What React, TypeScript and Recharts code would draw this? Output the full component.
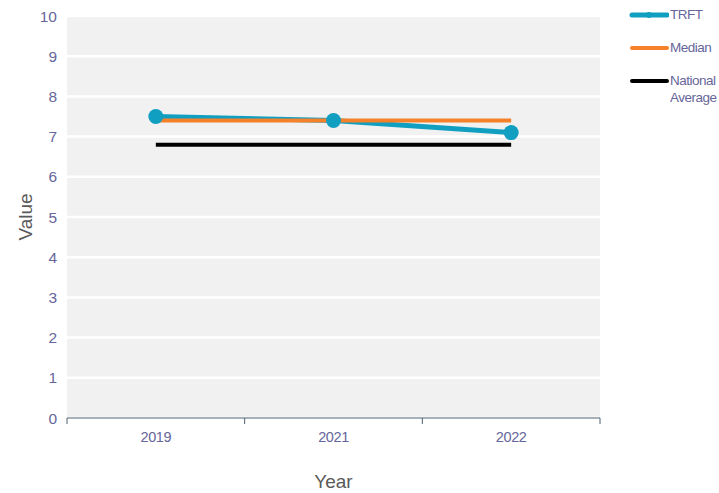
import React from 'react';
import { CartesianGrid, Label, Line, LineChart, XAxis, YAxis } from 'recharts';

const years = ['2019', '2021', '2022'];
const trft = [7.5, 7.4, 7.1];
const median = [7.4, 7.4, 7.4];
const nationalAverage = [6.8, 6.8, 6.8];
const yTicks = [0, 1, 2, 3, 4, 5, 6, 7, 8, 9, 10];

const data = years.map((year, i) => ({
  year,
  trft: trft[i],
  median: median[i],
  national: nationalAverage[i],
}));

const FONT = '"Liberation Sans Narrow", "Arial Narrow", "Liberation Sans", Arial, sans-serif';
const TICK_COLOR = '#66669a';
const TEAL = '#109fc0';
const ORANGE = '#f5822a';
const TICK_SIZE = 6;
const TICK_MARGIN = 2;

// tick marks sit on the band edges, labels in the band centre
const YearTick = (props: any) => {
  const { x, y, payload, index, visibleTicksCount } = props;
  const axisY = y - TICK_SIZE - TICK_MARGIN;
  const half = payload.offset || 0;
  const stroke = '#4f6272';
  return (
    <g>
      <line x1={x - half} x2={x - half} y1={axisY} y2={axisY + TICK_SIZE} stroke={stroke} strokeWidth={1} />
      {index === visibleTicksCount - 1 && (
        <line x1={x + half} x2={x + half} y1={axisY} y2={axisY + TICK_SIZE} stroke={stroke} strokeWidth={1} />
      )}
      <text
        x={x}
        y={axisY + 24}
        textAnchor="middle"
        fill={TICK_COLOR}
        fontSize={14.5}
        letterSpacing={-0.4}
        fontFamily={FONT}
      >
        {payload.value}
      </text>
    </g>
  );
};

const legendItems = [
  { label: ['TRFT'], color: TEAL, width: 5, dot: true },
  { label: ['Median'], color: ORANGE, width: 4, dot: false },
  { label: ['National', 'Average'], color: '#000000', width: 4, dot: false },
];

// legend sits outside the plot, to the right
const ChartLegend = () => (
  <div
    style={{
      position: 'absolute',
      left: 629,
      top: 6,
      fontFamily: FONT,
      fontSize: 13.5,
      color: TICK_COLOR,
    }}
  >
    {legendItems.map((item) => (
      <div key={item.label[0]} style={{ display: 'flex', alignItems: 'flex-start', height: 33 }}>
        <svg width={40} height={17}>
          <line x1={3} x2={38} y1={9} y2={9} stroke={item.color} strokeWidth={item.width} strokeLinecap="round" />
          {item.dot && <circle cx={20} cy={9} r={3} fill={item.color} />}
        </svg>
        <div style={{ lineHeight: '17px', marginLeft: 1, letterSpacing: -0.5 }}>
          {item.label.map((l) => (
            <div key={l}>{l}</div>
          ))}
        </div>
      </div>
    ))}
  </div>
);

const App = () => (
  <div style={{ position: 'absolute', left: 0, top: 0, width: 719, height: 493, background: '#fff' }}>
    <LineChart width={719} height={493} data={data} margin={{ top: 16, right: 119, left: 0, bottom: 0 }}>
      <CartesianGrid vertical={false} fill="#f1f1f1" stroke="#ffffff" strokeWidth={2.5} />
      <XAxis
        dataKey="year"
        scale="band"
        height={75}
        stroke="#4f6272"
        tickLine={false}
        tickSize={TICK_SIZE}
        tickMargin={TICK_MARGIN}
        tick={<YearTick />}
        interval={0}
      >
        <Label value="Year" position="insideBottom" offset={5} fill="#595959" fontSize={19} fontFamily={FONT} />
      </XAxis>
      <YAxis
        width={67}
        domain={[0, 10]}
        ticks={yTicks}
        axisLine={false}
        tickLine={false}
        tickMargin={4}
        tick={{ fill: TICK_COLOR, fontSize: 15.5, fontFamily: FONT }}
      >
        <Label value="Value" angle={-90} position="center" dx={-8} fill="#595959" fontSize={19} fontFamily={FONT} />
      </YAxis>
      <Line
        dataKey="trft"
        name="TRFT"
        stroke={TEAL}
        strokeWidth={5}
        dot={{ r: 7.5, fill: TEAL, stroke: 'none' }}
        isAnimationActive={false}
      />
      <Line dataKey="median" name="Median" stroke={ORANGE} strokeWidth={4} dot={false} isAnimationActive={false} />
      <Line
        dataKey="national"
        name="National Average"
        stroke="#000000"
        strokeWidth={4}
        dot={false}
        isAnimationActive={false}
      />
    </LineChart>
    <ChartLegend />
  </div>
);

export default App;
